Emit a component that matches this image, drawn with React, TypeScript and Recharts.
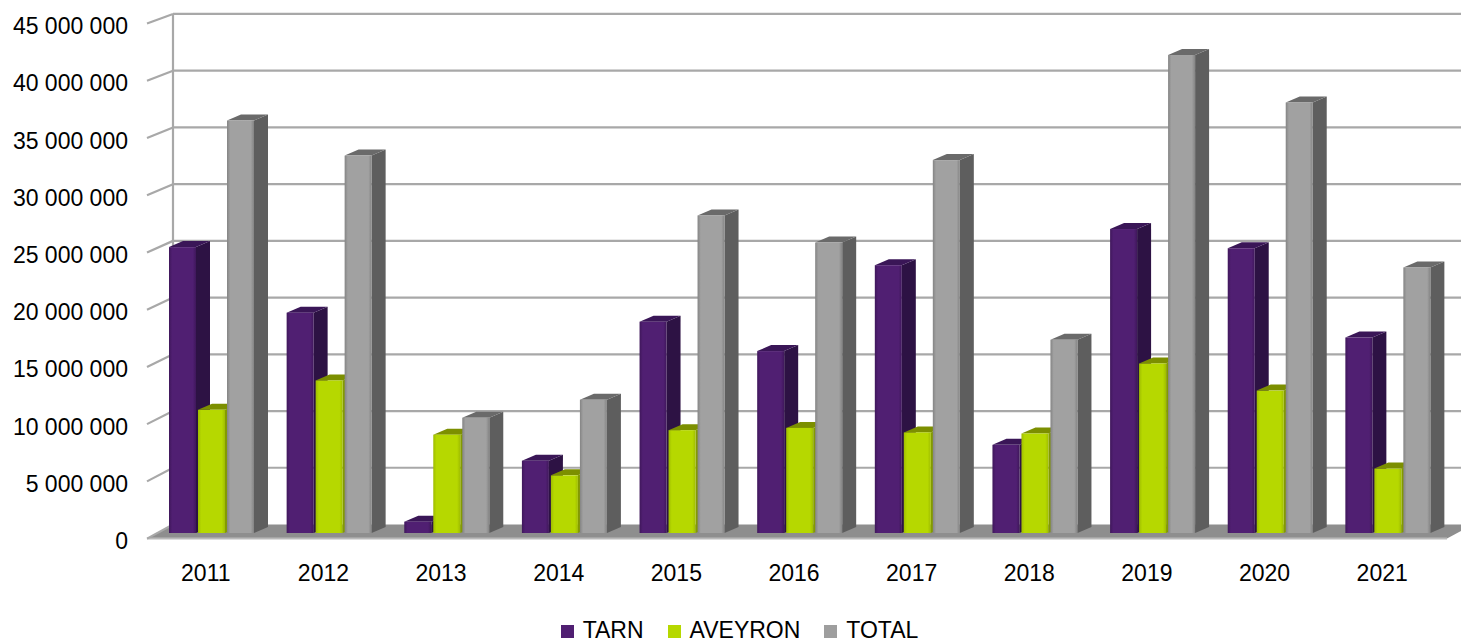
import React from 'react';
import { BarChart, Bar, XAxis, YAxis, CartesianGrid, Legend } from 'recharts';

// ---------- data ----------
const years = ['2011', '2012', '2013', '2014', '2015', '2016', '2017', '2018', '2019', '2020', '2021'];
const tarn = [25300000, 19500000, 1000000, 6400000, 18700000, 16100000, 23700000, 7800000, 26900000, 25200000, 17300000];
const aveyron = [10900000, 13500000, 8700000, 5100000, 9100000, 9300000, 8900000, 8800000, 15000000, 12600000, 5700000];
const total = [36500000, 33400000, 10200000, 11800000, 28100000, 25700000, 33000000, 17100000, 42300000, 38100000, 23500000];
const yTicks = [0, 5000000, 10000000, 15000000, 20000000, 25000000, 30000000, 35000000, 40000000, 45000000];
const seriesNames = ['TARN', 'AVEYRON', 'TOTAL'];

const data = years.map((year, i) => ({ year, TARN: tarn[i], AVEYRON: aveyron[i], TOTAL: total[i] }));

// ---------- layout / style ----------
const W = 1461;
const H = 644;
const MARGIN = { top: 24.5, right: 20, bottom: 51, left: 0 };
const Y_W = 147;
const X_H = 60;
const PLOT_BOTTOM = H - MARGIN.bottom - X_H;
const FONT = "'Liberation Sans', Arial, sans-serif";
const FS = 23;

const DEPTH_X = 26; // wall depth
const BAR_SHIFT = 6;
const BAR_DX = 14;
const BAR_DY = 6;

const COLORS: Record<string, { front: string; edge: string; side: string; top: string; legend: string }> = {
  TARN: { front: '#501f72', edge: '#3f175b', side: '#2d1244', top: '#3a1657', legend: '#501f72' },
  AVEYRON: { front: '#b6d800', edge: '#9fbd00', side: '#839a00', top: '#7c8f00', legend: '#b6d800' },
  TOTAL: { front: '#a1a1a1', edge: '#848484', side: '#5e5e5e', top: '#6a6a6a', legend: '#9e9e9e' },
};

const GRID = '#a8a8a8';

const backY = (y: number, bottom: number) => bottom - 8.5 - (bottom - y) * 1.004;
const labelY = (y: number, bottom: number) => bottom + 8.2 - (bottom - y) * 1.013;

const fmt = (v: number) => String(v).replace(/\B(?=(\d{3})+(?!\d))/g, ' ');

const makeShape = (name: string) => (props: any) => {
  const { x, y, width, height } = props;
  if (x == null || y == null) return <g />;
  const c = COLORS[name];
  const fx = x + BAR_SHIFT;
  const w = width;
  const h = Math.max(height, 0);
  const gid = `grad-${name}`;
  return (
    <g>
      <defs>
        <linearGradient id={gid} x1="0" y1="0" x2="1" y2="0">
          <stop offset="0%" stopColor={c.edge} />
          <stop offset="12%" stopColor={c.front} />
          <stop offset="88%" stopColor={c.front} />
          <stop offset="100%" stopColor={c.edge} />
        </linearGradient>
      </defs>
      <polygon
        points={`${fx + w},${y} ${fx + w + BAR_DX},${y - BAR_DY} ${fx + w + BAR_DX},${y + h - BAR_DY} ${fx + w},${y + h}`}
        fill={c.side}
      />
      <polygon
        points={`${fx},${y} ${fx + BAR_DX},${y - BAR_DY} ${fx + w + BAR_DX},${y - BAR_DY} ${fx + w},${y}`}
        fill={c.top}
      />
      <rect x={fx} y={y} width={w} height={h} fill={`url(#${gid})`} />
    </g>
  );
};

const gridLine = (props: any) => {
  const { x1, y1, x2, index } = props;
  const plotBottom = props.y != null && props.height != null ? props.y + props.height : PLOT_BOTTOM;
  const plotTop = props.y != null ? props.y : MARGIN.top;
  const by = backY(y1, plotBottom);
  const fy = labelY(y1, plotBottom) - 2.6;
  const isFloor = Math.abs(y1 - plotBottom) < 0.5;
  const right = x2 + MARGIN.right;
  return (
    <g key={`gl-${index}`}>
      {isFloor && (
        <g>
          <polygon
            points={`${x1},${fy} ${x2 + BAR_SHIFT},${fy} ${x2 + BAR_SHIFT + DEPTH_X},${by} ${x1 + DEPTH_X},${by}`}
            fill="#8e8e8e"
          />
          <line x1={x1} y1={fy} x2={x2 + BAR_SHIFT} y2={fy} stroke="#b9b9b9" strokeWidth={2} />
          <line
            x1={x1 + DEPTH_X}
            y1={backY(plotTop, plotBottom)}
            x2={x1 + DEPTH_X}
            y2={by}
            stroke={GRID}
            strokeWidth={2.2}
          />
        </g>
      )}
      {!isFloor && <line x1={x1 + DEPTH_X} y1={by} x2={right} y2={by} stroke={GRID} strokeWidth={2.2} />}
      <line x1={x1} y1={fy} x2={x1 + DEPTH_X} y2={by} stroke={GRID} strokeWidth={2.2} />
    </g>
  );
};

const YTick = (props: any) => {
  const { y, payload } = props;
  return (
    <text
      x={128}
      y={labelY(y, PLOT_BOTTOM)}
      textAnchor="end"
      dominantBaseline="central"
      fontSize={FS}
      fontFamily={FONT}
      fill="#000"
    >
      {fmt(payload.value)}
    </text>
  );
};

const XTick = (props: any) => {
  const { x, y, payload } = props;
  return (
    <text x={x} y={y + 40} textAnchor="middle" dominantBaseline="central" fontSize={FS} fontFamily={FONT} fill="#000">
      {payload.value}
    </text>
  );
};

const LegendContent = () => (
  <div
    style={{
      display: 'flex',
      justifyContent: 'center',
      alignItems: 'center',
      paddingLeft: 18,
      fontFamily: FONT,
      fontSize: FS,
      color: '#000',
      lineHeight: '22px',
      height: 22,
    }}
  >
    {seriesNames.map((n) => (
      <div key={n} style={{ display: 'flex', alignItems: 'center', margin: '0 12px' }}>
        <span style={{ display: 'inline-block', width: 13, height: 13, background: COLORS[n].legend, marginRight: 9, marginTop: 3 }} />
        <span style={{ lineHeight: '22px' }}>{n}</span>
      </div>
    ))}
  </div>
);

export default function App() {
  return (
    <div style={{ position: 'absolute', left: 0, top: 0, width: W, height: H, background: '#fff', overflow: 'hidden' }}>
      <BarChart width={W} height={H} data={data} margin={MARGIN} barGap={2} barSize={27}>
        <CartesianGrid vertical={false} horizontal={gridLine} />
        <XAxis
          dataKey="year"
          height={X_H}
          axisLine={false}
          tickLine={false}
          tickSize={0}
          tickMargin={0}
          tick={<XTick />}
          interval={0}
        />
        <YAxis
          width={Y_W}
          domain={[0, 45000000]}
          ticks={yTicks}
          axisLine={false}
          tickLine={false}
          tickSize={0}
          tickMargin={0}
          tick={<YTick />}
          interval={0}
        />
        <Legend
          verticalAlign="middle"
          align="center"
          layout="horizontal"
          wrapperStyle={{ top: 619, left: 0, width: W, height: 22 }}
          content={<LegendContent />}
        />
        <Bar dataKey="TARN" fill={COLORS.TARN.front} shape={makeShape('TARN')} isAnimationActive={false} />
        <Bar dataKey="AVEYRON" fill={COLORS.AVEYRON.front} shape={makeShape('AVEYRON')} isAnimationActive={false} />
        <Bar dataKey="TOTAL" fill={COLORS.TOTAL.front} shape={makeShape('TOTAL')} isAnimationActive={false} />
      </BarChart>
    </div>
  );
}
